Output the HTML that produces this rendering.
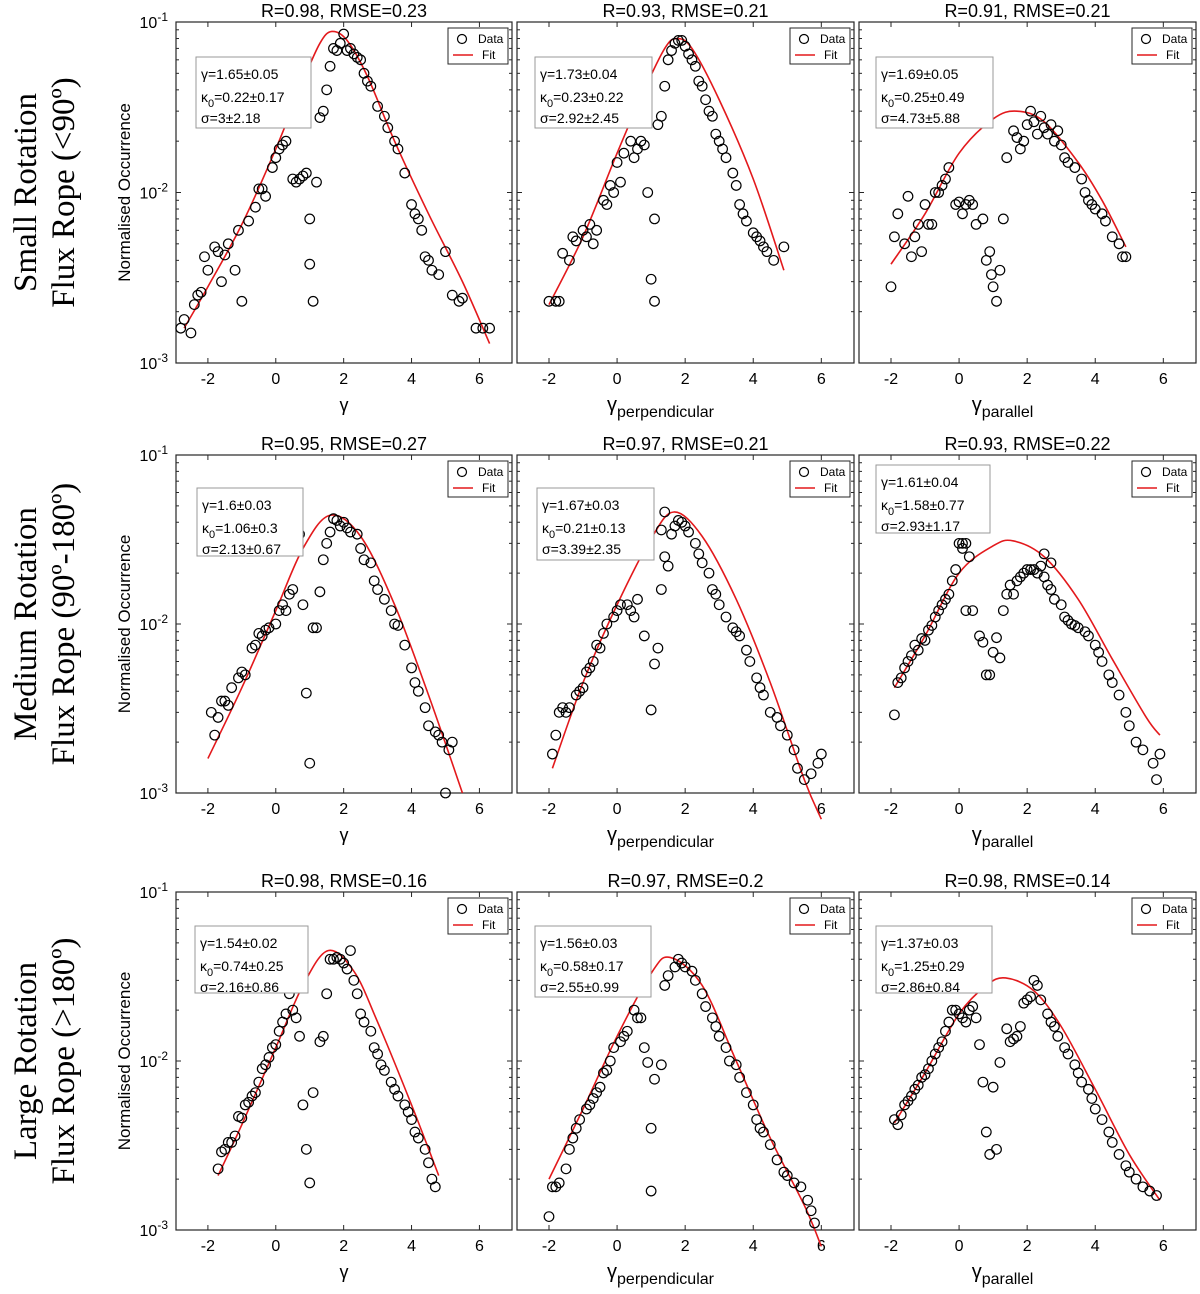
<!DOCTYPE html>
<html><head><meta charset="utf-8"><style>
html,body{margin:0;padding:0;background:#fff;}
svg{display:block;font-family:"Liberation Sans",sans-serif;}
</style></head><body>
<svg id="fig" width="1200" height="1294" viewBox="0 0 1200 1294"></svg>
<script>
const NS="http://www.w3.org/2000/svg";
const xTicks=[-2,0,2,4,6];
const xLabels=["-2","0","2","4","6"];
const titles=[["R=0.98, RMSE=0.23","R=0.93, RMSE=0.21","R=0.91, RMSE=0.21"],["R=0.95, RMSE=0.27","R=0.97, RMSE=0.21","R=0.93, RMSE=0.22"],["R=0.98, RMSE=0.16","R=0.97, RMSE=0.2","R=0.98, RMSE=0.14"]];
const params=[[["1.65±0.05","0.22±0.17","3±2.18"],["1.73±0.04","0.23±0.22","2.92±2.45"],["1.69±0.05","0.25±0.49","4.73±5.88"]],[["1.6±0.03","1.06±0.3","2.13±0.67"],["1.67±0.03","0.21±0.13","3.39±2.35"],["1.61±0.04","1.58±0.77","2.93±1.17"]],[["1.54±0.02","0.74±0.25","2.16±0.86"],["1.56±0.03","0.58±0.17","2.55±0.99"],["1.37±0.03","1.25±0.29","2.86±0.84"]]];
const d11=[[-2.8,0.0016],[-2.7,0.0018],[-2.5,0.0015],[-2.4,0.0022],[-2.3,0.0025],[-2.2,0.0026],[-2.1,0.0042],[-2.0,0.0035],[-1.8,0.0048],[-1.7,0.0045],[-1.6,0.0030],[-1.5,0.0043],[-1.4,0.0050],[-1.2,0.0035],[-1.1,0.0060],[-1.0,0.0023],[-0.8,0.0068],[-0.6,0.0082],[-0.5,0.0105],[-0.4,0.0105],[-0.3,0.0095],[-0.1,0.014],[0,0.016],[0.1,0.018],[0.2,0.019],[0.3,0.020],[0.5,0.012],[0.6,0.0115],[0.7,0.012],[0.8,0.0125],[0.9,0.013],[1.0,0.0070],[1.0,0.0038],[1.1,0.0023],[1.2,0.0115],[1.3,0.0275],[1.4,0.030],[1.5,0.040],[1.6,0.055],[1.7,0.070],[1.8,0.068],[1.9,0.075],[2.0,0.085],[2.1,0.068],[2.2,0.070],[2.3,0.065],[2.4,0.062],[2.5,0.060],[2.6,0.050],[2.7,0.045],[2.8,0.042],[3.0,0.032],[3.2,0.028],[3.3,0.024],[3.5,0.020],[3.6,0.018],[3.8,0.013],[4.0,0.0085],[4.1,0.0075],[4.2,0.0070],[4.3,0.0060],[4.4,0.0042],[4.5,0.0040],[4.6,0.0035],[4.8,0.0033],[5.0,0.0045],[5.2,0.0025],[5.4,0.0023],[5.5,0.0024],[5.9,0.0016],[6.1,0.0016],[6.3,0.0016]];
const f11=[[-2.7,0.0016],[-2,0.0028],[-1,0.0065],[0,0.018],[0.8,0.045],[1.3,0.075],[1.65,0.088],[2.1,0.078],[2.7,0.048],[3.5,0.020],[4.5,0.0075],[5.5,0.0030],[6.3,0.0013]];
const d12=[[-2,0.0023],[-1.8,0.0023],[-1.7,0.0023],[-1.6,0.0044],[-1.4,0.0040],[-1.3,0.0055],[-1.2,0.0052],[-1.0,0.0060],[-0.9,0.0055],[-0.8,0.0065],[-0.7,0.0050],[-0.6,0.0060],[-0.4,0.0090],[-0.3,0.0085],[-0.2,0.011],[-0.1,0.010],[0,0.015],[0.1,0.0115],[0.2,0.017],[0.4,0.020],[0.5,0.016],[0.6,0.018],[0.7,0.020],[0.8,0.019],[0.9,0.010],[1.0,0.0031],[1.1,0.0023],[1.1,0.0070],[1.2,0.025],[1.3,0.028],[1.4,0.042],[1.5,0.060],[1.6,0.068],[1.7,0.075],[1.8,0.078],[1.9,0.078],[2.0,0.072],[2.1,0.065],[2.2,0.060],[2.3,0.055],[2.4,0.045],[2.5,0.042],[2.6,0.035],[2.7,0.030],[2.8,0.028],[2.9,0.022],[3.0,0.020],[3.1,0.018],[3.2,0.016],[3.4,0.013],[3.5,0.011],[3.6,0.0085],[3.7,0.0075],[3.8,0.0068],[4.0,0.0058],[4.1,0.0055],[4.2,0.0052],[4.3,0.0048],[4.4,0.0045],[4.6,0.0040],[4.9,0.0048]];
const f12=[[-2,0.0022],[-1,0.0055],[0,0.017],[0.8,0.040],[1.4,0.070],[1.75,0.080],[2.2,0.070],[3,0.035],[4,0.012],[4.9,0.0035]];
const d13=[[-2,0.0028],[-1.9,0.0055],[-1.8,0.0075],[-1.6,0.0050],[-1.5,0.0095],[-1.4,0.0042],[-1.3,0.0055],[-1.2,0.0065],[-1.1,0.0045],[-1.0,0.0085],[-0.9,0.0065],[-0.8,0.0065],[-0.7,0.010],[-0.6,0.010],[-0.5,0.011],[-0.4,0.012],[-0.3,0.014],[-0.1,0.0085],[0,0.0088],[0.1,0.0075],[0.2,0.0085],[0.3,0.009],[0.4,0.0085],[0.5,0.0065],[0.7,0.0070],[0.8,0.0040],[0.9,0.0045],[0.95,0.0033],[1.0,0.0028],[1.1,0.0023],[1.2,0.0035],[1.3,0.0070],[1.4,0.016],[1.6,0.023],[1.7,0.021],[1.8,0.018],[1.9,0.020],[2.0,0.025],[2.1,0.030],[2.2,0.026],[2.3,0.022],[2.4,0.028],[2.5,0.024],[2.6,0.022],[2.7,0.025],[2.8,0.020],[2.9,0.023],[3.0,0.019],[3.1,0.016],[3.2,0.015],[3.4,0.014],[3.6,0.012],[3.7,0.010],[3.8,0.009],[3.9,0.0085],[4.0,0.0080],[4.2,0.0075],[4.3,0.0068],[4.5,0.0055],[4.7,0.0050],[4.8,0.0042],[4.9,0.0042]];
const f13=[[-2,0.0038],[-1,0.0075],[0,0.017],[1,0.027],[1.7,0.030],[2.5,0.026],[3.5,0.015],[4.2,0.009],[4.9,0.0048]];
const d21=[[-1.9,0.0030],[-1.8,0.0022],[-1.7,0.0028],[-1.6,0.0035],[-1.5,0.0035],[-1.4,0.0033],[-1.3,0.0042],[-1.1,0.0048],[-1.0,0.0052],[-0.9,0.0050],[-0.7,0.0072],[-0.6,0.0075],[-0.5,0.0088],[-0.4,0.0085],[-0.3,0.0092],[-0.2,0.0095],[0,0.010],[0.1,0.012],[0.2,0.013],[0.3,0.012],[0.4,0.015],[0.5,0.016],[0.6,0.035],[0.7,0.034],[0.8,0.013],[0.9,0.0039],[1.0,0.0015],[1.1,0.0095],[1.2,0.0095],[1.3,0.0155],[1.4,0.024],[1.5,0.030],[1.6,0.035],[1.7,0.042],[1.8,0.041],[1.9,0.038],[2.0,0.040],[2.1,0.037],[2.2,0.035],[2.4,0.034],[2.5,0.028],[2.6,0.024],[2.8,0.023],[2.9,0.018],[3.0,0.016],[3.2,0.014],[3.4,0.012],[3.5,0.010],[3.6,0.0098],[3.8,0.0075],[4.0,0.0055],[4.1,0.0045],[4.2,0.0040],[4.4,0.0032],[4.5,0.0025],[4.7,0.0023],[4.8,0.0022],[4.9,0.0020],[5.0,0.0010],[5.1,0.0018],[5.2,0.0020]];
const f21=[[-2,0.0016],[-1,0.0042],[0,0.012],[0.8,0.028],[1.6,0.044],[2.5,0.033],[3.5,0.013],[4.5,0.0038],[5.5,0.0010]];
const d22=[[-1.9,0.0017],[-1.8,0.0022],[-1.7,0.0030],[-1.6,0.0032],[-1.5,0.0030],[-1.4,0.0032],[-1.2,0.0038],[-1.1,0.0040],[-1.0,0.0042],[-0.9,0.0052],[-0.8,0.0055],[-0.7,0.0060],[-0.6,0.0075],[-0.5,0.0072],[-0.4,0.0088],[-0.3,0.010],[-0.1,0.011],[0,0.012],[0.1,0.013],[0.3,0.013],[0.4,0.012],[0.5,0.011],[0.6,0.014],[0.8,0.0085],[1.0,0.0031],[1.1,0.0058],[1.2,0.0072],[1.3,0.016],[1.3,0.036],[1.4,0.046],[1.4,0.025],[1.5,0.022],[1.6,0.034],[1.7,0.038],[1.8,0.041],[1.9,0.040],[2.0,0.038],[2.1,0.035],[2.3,0.030],[2.4,0.026],[2.5,0.023],[2.7,0.020],[2.8,0.016],[2.9,0.015],[3.0,0.013],[3.2,0.011],[3.4,0.0095],[3.5,0.009],[3.6,0.0085],[3.8,0.0070],[3.9,0.0060],[4.1,0.0048],[4.2,0.0042],[4.3,0.0038],[4.5,0.0030],[4.7,0.0028],[4.8,0.0025],[5.0,0.0022],[5.2,0.0018],[5.3,0.0014],[5.5,0.0012],[5.7,0.0013],[5.9,0.0015],[6.0,0.0017]];
const f22=[[-1.9,0.0014],[-1,0.0045],[0,0.013],[1,0.032],[1.67,0.046],[2.5,0.033],[3.5,0.014],[4.5,0.0045],[5.5,0.0012],[6,0.0007]];
const d23=[[-1.9,0.0029],[-1.8,0.0045],[-1.7,0.0048],[-1.6,0.0055],[-1.5,0.0060],[-1.4,0.0065],[-1.3,0.0075],[-1.2,0.0070],[-1.1,0.0082],[-1.0,0.0080],[-0.9,0.0092],[-0.8,0.0098],[-0.7,0.011],[-0.6,0.012],[-0.5,0.013],[-0.4,0.014],[-0.3,0.015],[-0.2,0.018],[-0.1,0.021],[0,0.030],[0.1,0.030],[0.2,0.030],[0.1,0.028],[0.3,0.025],[0.2,0.012],[0.4,0.012],[0.6,0.0085],[0.7,0.0078],[0.8,0.0050],[0.9,0.0050],[1.0,0.0068],[1.1,0.0083],[1.2,0.0063],[1.3,0.012],[1.4,0.015],[1.5,0.017],[1.6,0.015],[1.7,0.018],[1.8,0.019],[1.9,0.020],[2.0,0.021],[2.1,0.021],[2.2,0.021],[2.3,0.020],[2.4,0.022],[2.5,0.019],[2.5,0.026],[2.7,0.023],[2.6,0.017],[2.7,0.016],[2.8,0.014],[3.0,0.013],[3.1,0.011],[3.2,0.0105],[3.3,0.010],[3.4,0.0098],[3.5,0.0095],[3.7,0.0090],[3.8,0.0085],[4.0,0.0075],[4.1,0.0068],[4.2,0.0060],[4.4,0.0050],[4.5,0.0045],[4.7,0.0038],[4.9,0.0030],[5.0,0.0025],[5.2,0.0020],[5.4,0.0018],[5.7,0.0015],[5.8,0.0012],[5.9,0.0017]];
const f23=[[-1.9,0.0042],[-1,0.0085],[0,0.020],[1,0.029],[1.6,0.031],[2.5,0.025],[3.5,0.014],[4.5,0.0062],[5.5,0.0028],[5.9,0.0022]];
const d31=[[-1.7,0.0023],[-1.6,0.0029],[-1.5,0.0030],[-1.4,0.0033],[-1.3,0.0033],[-1.2,0.0036],[-1.1,0.0047],[-1.0,0.0046],[-0.9,0.0055],[-0.8,0.0057],[-0.7,0.0062],[-0.6,0.0065],[-0.5,0.0075],[-0.4,0.0090],[-0.3,0.0095],[-0.2,0.0105],[-0.1,0.012],[0,0.0125],[0.1,0.015],[0.2,0.017],[0.3,0.019],[0.4,0.025],[0.5,0.020],[0.6,0.018],[0.7,0.014],[0.8,0.0055],[0.9,0.0030],[1.0,0.0019],[1.1,0.0065],[1.3,0.013],[1.4,0.014],[1.5,0.025],[1.6,0.040],[1.7,0.040],[1.8,0.041],[1.9,0.040],[2.0,0.038],[2.1,0.035],[2.2,0.045],[2.3,0.030],[2.4,0.025],[2.5,0.019],[2.6,0.017],[2.8,0.015],[2.9,0.012],[3.0,0.011],[3.1,0.0095],[3.2,0.0088],[3.4,0.0075],[3.5,0.0068],[3.6,0.0062],[3.8,0.0055],[3.9,0.0050],[4.0,0.0045],[4.1,0.0038],[4.2,0.0035],[4.4,0.0030],[4.5,0.0025],[4.6,0.0020],[4.7,0.0018]];
const f31=[[-1.7,0.0021],[-1,0.0042],[0,0.012],[0.8,0.028],[1.54,0.045],[2.3,0.034],[3,0.017],[4,0.0055],[4.8,0.0021]];
const d32=[[-2,0.0012],[-1.9,0.0018],[-1.8,0.0018],[-1.7,0.0019],[-1.5,0.0023],[-1.4,0.0030],[-1.3,0.0035],[-1.2,0.0040],[-1.1,0.0045],[-0.9,0.0052],[-0.8,0.0055],[-0.7,0.0060],[-0.6,0.0065],[-0.5,0.0070],[-0.4,0.0085],[-0.3,0.0088],[-0.2,0.010],[-0.1,0.012],[0.1,0.013],[0.2,0.014],[0.3,0.015],[0.5,0.020],[0.6,0.018],[0.7,0.018],[0.8,0.012],[0.9,0.0098],[1.0,0.0040],[1.0,0.0017],[1.1,0.0078],[1.3,0.0095],[1.4,0.028],[1.5,0.032],[1.7,0.036],[1.8,0.040],[1.9,0.038],[2.0,0.036],[2.2,0.034],[2.3,0.030],[2.5,0.025],[2.6,0.021],[2.8,0.018],[2.9,0.016],[3.0,0.014],[3.2,0.012],[3.3,0.010],[3.5,0.0095],[3.6,0.0080],[3.8,0.0065],[4.0,0.0055],[4.1,0.0045],[4.2,0.0040],[4.3,0.0038],[4.5,0.0032],[4.7,0.0026],[4.9,0.0022],[5.0,0.0021],[5.2,0.0019],[5.4,0.0018],[5.6,0.0015],[5.7,0.0013],[5.8,0.0011],[5.9,0.0009]];
const f32=[[-2,0.0020],[-1,0.0052],[0,0.014],[1,0.033],[1.56,0.041],[2.5,0.028],[3.5,0.010],[4.5,0.0035],[5.5,0.0014],[6,0.0008]];
const d33=[[-1.9,0.0045],[-1.8,0.0042],[-1.7,0.0048],[-1.6,0.0055],[-1.5,0.0058],[-1.4,0.0062],[-1.3,0.0068],[-1.2,0.0072],[-1.1,0.0080],[-1.0,0.0083],[-0.9,0.0090],[-0.8,0.010],[-0.7,0.011],[-0.6,0.012],[-0.5,0.013],[-0.4,0.015],[-0.3,0.017],[-0.2,0.020],[-0.1,0.020],[0,0.019],[0.1,0.018],[0.2,0.017],[0.3,0.020],[0.4,0.021],[0.5,0.018],[0.6,0.0125],[0.7,0.0075],[0.8,0.0038],[0.9,0.0028],[1.0,0.0070],[1.1,0.0030],[1.2,0.0098],[1.4,0.0155],[1.5,0.013],[1.6,0.0135],[1.7,0.014],[1.8,0.016],[1.9,0.022],[2.0,0.023],[2.1,0.024],[2.2,0.030],[2.3,0.028],[2.4,0.023],[2.6,0.019],[2.7,0.017],[2.8,0.016],[2.9,0.014],[3.1,0.012],[3.2,0.011],[3.4,0.0095],[3.5,0.0085],[3.6,0.0075],[3.8,0.0068],[3.9,0.0060],[4.0,0.0052],[4.2,0.0045],[4.4,0.0038],[4.5,0.0033],[4.7,0.0028],[4.9,0.0024],[5.0,0.0022],[5.2,0.0020],[5.4,0.0018],[5.6,0.0017],[5.8,0.0016]];
const f33=[[-1.9,0.0043],[-1,0.0085],[0,0.019],[0.8,0.028],[1.37,0.031],[2.2,0.026],[3,0.016],[4,0.0068],[5,0.0028],[5.9,0.0015]];
const dataSets=[[d11,d12,d13],[d21,d22,d23],[d31,d32,d33]];
const fitSets=[[f11,f12,f13],[f21,f22,f23],[f31,f32,f33]];

const svg=document.getElementById('fig');
function el(tag,attrs,parent){const e=document.createElementNS(NS,tag);for(const k in attrs)e.setAttribute(k,attrs[k]);(parent||svg).appendChild(e);return e;}
const colL=[176,517,859], colW=[336,337,337];
const rowT=[22,455,892], rowH=[341,338,338];
const XMIN=-2.94, XMAX=6.96;
const rowNames=[["Small Rotation","Flux Rope (<90º)"],["Medium Rotation","Flux Rope (90º-180º)"],["Large Rotation","Flux Rope (>180º)"]];
const xNames=["γ","perpendicular","parallel"];
const boxPos=[[[20,35,115,71],[18,35,117,71],[17,35,117,71]],[[21,33,106,68],[20,33,117,72],[17,10,114,68]],[[19,34,113,67],[18,34,116,71],[17,34,116,67]]];

for(let r=0;r<3;r++){
  // row label
  const cy=rowT[r]+rowH[r]/2;
  const rl=el('text',{transform:`translate(40,${cy}) rotate(-90)`,'text-anchor':'middle','font-family':'"Liberation Serif",serif','font-size':'33'});
  
  
  const t1=el('tspan',{x:0,dy:-4},rl);t1.textContent=rowNames[r][0];
  const t2=el('tspan',{x:0,dy:38},rl);t2.textContent=rowNames[r][1];
  const yl=el('text',{transform:`translate(130,${cy}) rotate(-90)`,'text-anchor':'middle','font-size':'17'});
  
  
  yl.textContent='Normalised Occurrence';
  for(let c=0;c<3;c++){
    const L=colL[c],T=rowT[r],W=colW[c],H=rowH[r];
    const sx=v=>L+(v-XMIN)/(XMAX-XMIN)*W;
    const sy=v=>T+(-1-Math.log10(v))/2*H;
    const g=el('g',{});
    
    
    el('rect',{x:L,y:T,width:W,height:H,fill:'#fff',stroke:'#262626','stroke-width':1.2},g);
    // y ticks
    for(let d=-3;d<=-1;d++){
      const py=sy(Math.pow(10,d));
      el('line',{x1:L,x2:L+5,y1:py,y2:py,stroke:'#262626'},g);
      el('line',{x1:L+W-5,x2:L+W,y1:py,y2:py,stroke:'#262626'},g);
      if(d<-1){for(let m=2;m<=9;m++){const my=sy(m*Math.pow(10,d));el('line',{x1:L,x2:L+3,y1:my,y2:my,stroke:'#262626'},g);el('line',{x1:L+W-3,x2:L+W,y1:my,y2:my,stroke:'#262626'},g);}}
      if(c===0){
        const tl=el('text',{x:L-8,y:py+6,'text-anchor':'end','font-size':'16'},g);
        
        
        tl.textContent='10';
        const sp=el('tspan',{dy:-7,'font-size':'12'},tl);sp.textContent=String(d);
      }
    }
    xTicks.forEach((v,i)=>{
      const px=sx(v);
      el('line',{x1:px,x2:px,y1:T+H,y2:T+H-5,stroke:'#262626'},g);
      el('line',{x1:px,x2:px,y1:T,y2:T+5,stroke:'#262626'},g);
      const tl=el('text',{x:px,y:T+H+21,'text-anchor':'middle','font-size':'16'},g);
      
      
      tl.textContent=xLabels[i];
    });
    // x label
    const xl=el('text',{x:L+W/2,y:T+H+48,'text-anchor':'middle','font-size':'18'},g);
    
    
    if(c===0){xl.textContent='γ';}else{xl.setAttribute('x',L+W/2-25);const a=el('tspan',{'font-size':'20'},xl);a.textContent='γ';const b=el('tspan',{dy:6,'font-size':'16'},xl);b.textContent=xNames[c];}
    // title
    const ti=el('text',{x:L+W/2,y:T-5,'text-anchor':'middle','font-size':'18'},g);
    
    
    ti.textContent=titles[r][c];
    // fit line (smooth through sampled points)
    const pts=fitSets[r][c].map(p=>[sx(p[0]),sy(p[1])]);
    let dstr=`M${pts[0][0]},${pts[0][1]}`;
    for(let i=0;i<pts.length-1;i++){
      const p0=pts[Math.max(0,i-1)],p1=pts[i],p2=pts[i+1],p3=pts[Math.min(pts.length-1,i+2)];
      const c1=[p1[0]+(p2[0]-p0[0])/6,p1[1]+(p2[1]-p0[1])/6],c2=[p2[0]-(p3[0]-p1[0])/6,p2[1]-(p3[1]-p1[1])/6];
      dstr+=` C${c1[0]},${c1[1]} ${c2[0]},${c2[1]} ${p2[0]},${p2[1]}`;
    }
    const fl=el('path',{d:dstr,fill:'none',stroke:'#e3191c','stroke-width':1.6},g);
    
    
    // data points
    dataSets[r][c].forEach(p=>{
      const py=sy(p[1]); if(py>T+H+2)return;
      const ci=el('circle',{cx:sx(p[0]),cy:py,r:4.8,fill:'none',stroke:'#000','stroke-width':1.2},g);
      
      
    });
    // annotation box
    const bp=boxPos[r][c];
    const bx=L+bp[0],by=T+bp[1];
    const ab=el('rect',{x:bx,y:by,width:bp[2],height:bp[3],fill:'#fff',stroke:'#999','stroke-width':1},g);
    
    
    const pr=params[r][c];
    const a1=el('text',{x:bx+5,y:by+22,'font-size':'14'},g);a1.textContent='γ='+pr[0];
    
    const a2=el('text',{x:bx+5,y:by+45,'font-size':'14'},g);
    
    const k1=el('tspan',{},a2);k1.textContent='κ';const k2=el('tspan',{dy:5,'font-size':'11'},a2);k2.textContent='0';const k3=el('tspan',{dy:-5},a2);k3.textContent='='+pr[1];
    const a3=el('text',{x:bx+5,y:by+66,'font-size':'14'},g);a3.textContent='σ='+pr[2];
    
    // legend
    const lx=L+W-64,ly=T+6;
    const lg=el('g',{},g);
    
    
    el('rect',{x:lx,y:ly,width:60,height:36,fill:'#fff',stroke:'#262626','stroke-width':1},lg);
    el('circle',{cx:lx+14,cy:ly+11,r:4.5,fill:'none',stroke:'#000','stroke-width':1.2},lg);
    const lt1=el('text',{x:lx+30,y:ly+15,'font-size':'12'},lg);lt1.textContent='Data';
    el('line',{x1:lx+5,x2:lx+25,y1:ly+27,y2:ly+27,stroke:'#e3191c','stroke-width':1.5},lg);
    const lt2=el('text',{x:lx+34,y:ly+31,'font-size':'12'},lg);lt2.textContent='Fit';
  }
}
</script>
</body></html>
